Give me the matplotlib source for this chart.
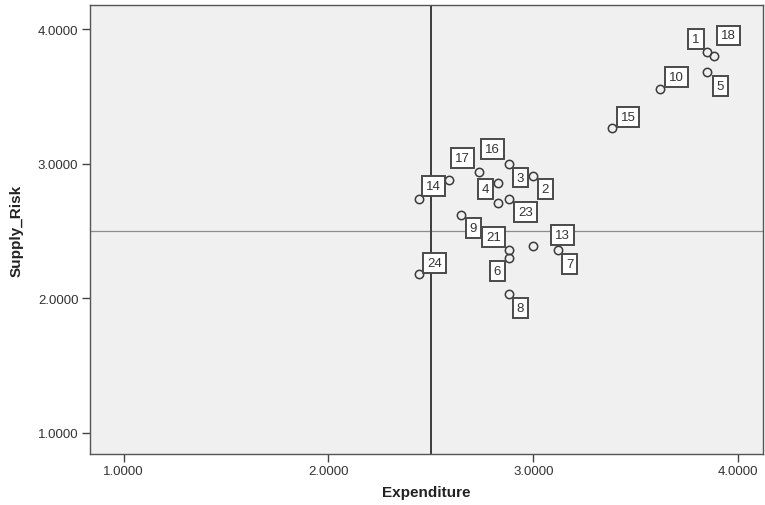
import matplotlib.pyplot as plt

plt.rcParams['font.family'] = ['Liberation Sans', 'DejaVu Sans']

# scatter values
expenditure = [3.849, 3.883, 3.849, 3.620, 3.384,
               2.884, 2.737, 2.590, 3.001, 2.827, 2.444, 2.827, 2.884,
               2.649, 2.884, 3.001, 3.120, 2.444, 2.884, 2.884, 2.770]
supply_risk = [3.831, 3.796, 3.678, 3.556, 3.262,
               3.001, 2.939, 2.880, 2.909, 2.855, 2.736, 2.707, 2.736,
               2.617, 2.357, 2.385, 2.357, 2.179, 2.298, 2.033, 2.860]
labels = ['1', '18', '5', '10', '15',
          '3', '16', '17', '2', '4', '14', None, '23',
          '9', '21', '13', '7', '24', '6', '8', None]
# label box offsets in pixels (placement only)
label_offsets = [(-11, 13), (14, 21), (13, -14), (16, 12), (16, 11),
                 (11, -14), (13, 23), (13, 22), (12, -13), (-12, -6), (14, 13), None, (16, -13),
                 (12, -13), (-16, 13), (29, 11), (12, -14), (15, 11), (-12, -13), (11, -14), None]

x_ref = 2.5
y_ref = 2.5
x_ticks = [1.0, 2.0, 3.0, 4.0]
y_ticks = [1.0, 2.0, 3.0, 4.0]

fig = plt.figure(figsize=(7.65, 5.06), dpi=100)
ax = fig.add_axes([0.117, 0.101, 0.880, 0.887])
ax.set_facecolor('#f0f0f0')

ax.axhline(y_ref, color='#8c8c8c', lw=0.9, zorder=1)
ax.axvline(x_ref, color='#3c3c3c', lw=1.4, zorder=1)

ax.plot(expenditure, supply_risk, 'o', ms=6, mfc='none', mec='#3a3a3a', mew=1.1, zorder=3)

for xv, yv, lab, off in zip(expenditure, supply_risk, labels, label_offsets):
    if lab is None:
        continue
    ax.annotate(lab, xy=(xv, yv), xytext=off, textcoords='offset pixels',
                ha='center', va='center', fontsize=9.5, color='#333333', zorder=4,
                bbox=dict(boxstyle='square,pad=0.3', fc='white', ec='#4a4a4a', lw=1.4))

ax.set_xlim(0.834, 4.12)
ax.set_ylim(0.844, 4.178)
ax.set_xticks(x_ticks)
ax.set_yticks(y_ticks)
ax.set_xticklabels(['%.4f' % v for v in x_ticks])
ax.set_yticklabels(['%.4f' % v for v in y_ticks])
ax.tick_params(direction='out', length=6, width=1, color='#444444', pad=2,
               labelsize=9.5, labelcolor='#333333', top=False, right=False)
for s in ax.spines.values():
    s.set_color('#555555')
    s.set_linewidth(1.0)

ax.set_xlabel('Expenditure', fontsize=11, fontweight='bold', color='#222222', labelpad=6)
ax.set_ylabel('Supply_Risk', fontsize=11, fontweight='bold', color='#222222', labelpad=10)

plt.savefig('out.png', dpi=100)
